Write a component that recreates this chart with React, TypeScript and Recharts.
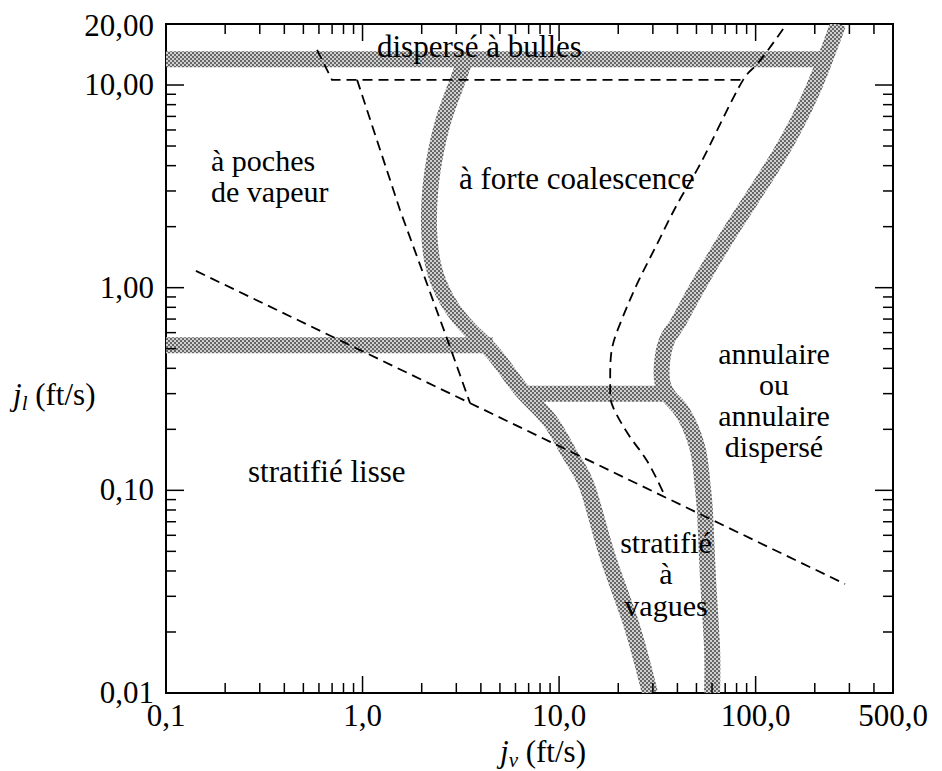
import React from 'react';
import { LineChart, Line, XAxis, YAxis, ReferenceArea } from 'recharts';

// tick values (log axes)
const xMajor = [0.1, 1, 10, 100];
const xMinor = [0.2, 0.3, 0.4, 0.5, 0.6, 0.7, 0.8, 0.9, 2, 3, 4, 5, 6, 7, 8, 9, 20, 30, 40, 50, 60, 70, 80, 90, 200, 300, 400];
const xLabelValues = [0.1, 1, 10, 100, 500];
const xLabels = ['0,1', '1,0', '10,0', '100,0', '500,0'];

const yMajor = [0.01, 0.1, 1, 10];
const yMinor = [0.02, 0.03, 0.04, 0.05, 0.06, 0.07, 0.08, 0.09, 0.2, 0.3, 0.4, 0.5, 0.6, 0.7, 0.8, 0.9, 2, 3, 4, 5, 6, 7, 8, 9];
const yLabelValues = [0.01, 0.1, 1, 10, 20];
const yLabels = ['0,01', '0,10', '1,00', '10,00', '20,00'];

// shaded transition bands
const bandTop = [{ x: 0.1, y: 13.4 }, { x: 215, y: 13.4 }];
const bandMidLeft = [{ x: 0.1, y: 0.52 }, { x: 4.6, y: 0.52 }];
const bandMid = [{ x: 6.5, y: 0.3 }, { x: 35, y: 0.3 }];
const bandLeft = [
  { x: 3.33, y: 13.4 }, { x: 2.99, y: 10 }, { x: 2.63, y: 7.1 }, { x: 2.37, y: 4.77 },
  { x: 2.21, y: 3.03 }, { x: 2.18, y: 1.92 }, { x: 2.29, y: 1.29 }, { x: 2.69, y: 0.87 },
  { x: 3.52, y: 0.62 }, { x: 4.72, y: 0.465 }, { x: 6.48, y: 0.31 }, { x: 9.0, y: 0.22 },
  { x: 11.4, y: 0.149 }, { x: 13.9, y: 0.104 }, { x: 17.5, y: 0.0485 }, { x: 23, y: 0.0227 },
  { x: 29, y: 0.01 },
];
const bandRight = [
  { x: 263, y: 20 }, { x: 194, y: 9.33 }, { x: 130, y: 4.41 }, { x: 78.7, y: 2.06 },
  { x: 49.2, y: 0.96 }, { x: 39.9, y: 0.661 }, { x: 35.4, y: 0.551 }, { x: 33.4, y: 0.425 },
  { x: 33.8, y: 0.331 }, { x: 37.6, y: 0.279 }, { x: 42.8, y: 0.24 }, { x: 50.4, y: 0.164 },
  { x: 53.4, y: 0.112 }, { x: 55.3, y: 0.0773 }, { x: 57.3, y: 0.0361 }, { x: 60, y: 0.0169 },
  { x: 60, y: 0.01 },
];

// dashed boundaries
const dashLong = [{ x: 0.142, y: 1.21 }, { x: 285, y: 0.0345 }];
const dashTop = [{ x: 0.587, y: 14.9 }, { x: 0.699, y: 10.6 }, { x: 86.4, y: 10.6 }];
const dashCurve = [
  { x: 138, y: 18.9 }, { x: 101.8, y: 12.7 }, { x: 86.4, y: 10.6 }, { x: 66, y: 6.41 },
  { x: 51, y: 3.9 }, { x: 39.9, y: 2.58 }, { x: 31.5, y: 1.64 }, { x: 24.9, y: 1.04 },
  { x: 20.4, y: 0.661 }, { x: 18.4, y: 0.47 }, { x: 18.2, y: 0.323 }, { x: 18.8, y: 0.258 },
  { x: 23, y: 0.183 }, { x: 28, y: 0.14 }, { x: 34.2, y: 0.0958 },
];
const dashInner = [{ x: 0.938, y: 10.6 }, { x: 1.552, y: 2.41 }, { x: 2.72, y: 0.545 }, { x: 3.52, y: 0.27 }];

const W = 926;
const H = 763;
const PLOT_W = 727;
const PLOT_H = 669;
const FONT = 'Liberation Serif';

const XTick = (props: any) => {
  const { x, y, payload } = props;
  const v = payload.value;
  const major = xMajor.includes(v);
  const len = major ? 17 : 10;
  const li = xLabelValues.indexOf(v);
  return (
    <g>
      {v !== 500 && (
        <>
          <line x1={x} y1={y} x2={x} y2={y - len} stroke="#000" strokeWidth={1.5} />
          <line x1={x} y1={y - PLOT_H} x2={x} y2={y - PLOT_H + len} stroke="#000" strokeWidth={1.5} />
        </>
      )}
      {li >= 0 && (
        <text x={x} y={y + 33} textAnchor="middle" fontFamily={FONT} fontSize={31} fill="#000">
          {xLabels[li]}
        </text>
      )}
    </g>
  );
};

const YTick = (props: any) => {
  const { x, y, payload } = props;
  const v = payload.value;
  const major = yMajor.includes(v);
  const len = major ? 18 : 10;
  const li = yLabelValues.indexOf(v);
  return (
    <g>
      {v !== 20 && (
        <>
          <line x1={x} y1={y} x2={x + len} y2={y} stroke="#000" strokeWidth={1.5} />
          <line x1={x + PLOT_W} y1={y} x2={x + PLOT_W - len} y2={y} stroke="#000" strokeWidth={1.5} />
        </>
      )}
      {li >= 0 && (
        <text x={x - 12} y={y + (v === 20 ? 12 : 10)} textAnchor="end" fontFamily={FONT} fontSize={31} fill="#000">
          {yLabels[li]}
        </text>
      )}
    </g>
  );
};

const band = (data: any[], key: string, curve: any = 'linear') => (
  <Line
    key={key}
    data={data}
    dataKey="y"
    type={curve}
    stroke="url(#halftone)"
    strokeWidth={16}
    strokeLinecap="butt"
    strokeLinejoin="round"
    dot={false}
    activeDot={false}
    isAnimationActive={false}
  />
);

const dashed = (data: any[], key: string, curve: any = 'linear') => (
  <Line
    key={key}
    data={data}
    dataKey="y"
    type={curve}
    stroke="#000"
    strokeWidth={1.8}
    strokeDasharray="10 6"
    dot={false}
    activeDot={false}
    isAnimationActive={false}
  />
);

export default function App() {
  const lbl = { fontFamily: FONT, fontSize: 31, fill: '#000' };
  const stack = { fontFamily: FONT, fontSize: 30, fill: '#000' };
  return (
    <div style={{ position: 'relative', width: W, height: H }}>
      <LineChart width={W} height={H} margin={{ top: 16, right: 41, bottom: 18, left: 98 }}>
        <defs>
          <pattern id="halftone" patternUnits="userSpaceOnUse" width={4} height={4}>
            <rect x={0} y={0} width={4} height={4} fill="#d0d0d0" />
            <rect x={0} y={0} width={2} height={2} fill="#666" />
            <rect x={2} y={2} width={2} height={2} fill="#666" />
          </pattern>
        </defs>
        <XAxis
          dataKey="x"
          type="number"
          scale="log"
          domain={[0.1, 500]}
          allowDataOverflow
          ticks={[...xMajor, ...xMinor, 500]}
          interval={0}
          tickSize={0}
          tickMargin={0}
          axisLine={false}
          tickLine={false}
          tick={<XTick />}
          height={60}
        />
        <YAxis
          type="number"
          scale="log"
          domain={[0.01, 20]}
          allowDataOverflow
          ticks={[...yMajor, ...yMinor, 20]}
          interval={0}
          tickSize={0}
          tickMargin={0}
          axisLine={false}
          tickLine={false}
          tick={<YTick />}
          width={60}
        />
        {band(bandTop, 'bt')}
        {band(bandMidLeft, 'bml')}
        {band(bandMid, 'bm')}
        {band(bandLeft, 'bl', 'natural')}
        {band(bandRight, 'br', 'natural')}
        {dashed(dashLong, 'dl')}
        {dashed(dashTop, 'dt')}
        {dashed(dashCurve, 'dc', 'natural')}
        {dashed(dashInner, 'di')}
        <ReferenceArea x1={0.1} x2={500} y1={0.01} y2={20} fill="none" stroke="#000" strokeWidth={2} />
      </LineChart>
      <svg width={W} height={H} style={{ position: 'absolute', left: 0, top: 0, pointerEvents: 'none' }}>
        <text x={369} y={49} {...lbl}>dispersé à bulles</text>
        <text x={203} y={163} {...stack}>à poches</text>
        <text x={203} y={194} {...stack}>de vapeur</text>
        <text x={451} y={181} {...lbl}>à forte coalescence</text>
        <text x={240} y={474} {...lbl}>stratifié lisse</text>
        <g textAnchor="middle">
          <text x={766} y={356} {...stack}>annulaire</text>
          <text x={766} y={387} {...stack}>ou</text>
          <text x={766} y={418} {...stack}>annulaire</text>
          <text x={766} y={449} {...stack}>dispersé</text>
          <text x={658} y={545} {...stack}>stratifié</text>
          <text x={658} y={576} {...stack}>à</text>
          <text x={658} y={608} {...stack}>vagues</text>
        </g>
        <text x={492} y={754} {...lbl}>
          <tspan fontStyle="italic">j</tspan>
          <tspan fontStyle="italic" fontSize={21} dy={5}>v</tspan>
          <tspan dy={-5}> (ft/s)</tspan>
        </text>
        <text x={5} y={397} {...lbl}>
          <tspan fontStyle="italic">j</tspan>
          <tspan fontStyle="italic" fontSize={21} dy={5}>l</tspan>
          <tspan dy={-5}> (ft/s)</tspan>
        </text>
      </svg>
    </div>
  );
}
